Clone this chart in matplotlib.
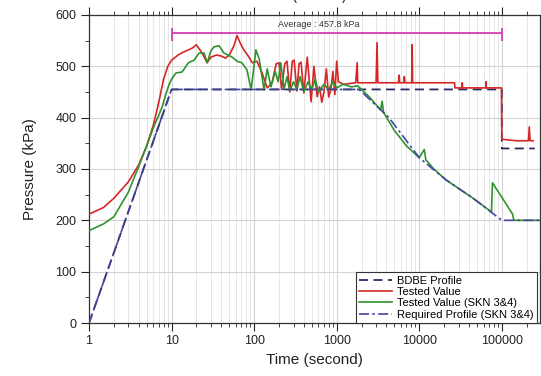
import matplotlib
matplotlib.use("Agg")
import matplotlib.pyplot as plt
from matplotlib.ticker import LogLocator, NullFormatter, MultipleLocator

plt.rcParams['font.family'] = ['Liberation Sans', 'DejaVu Sans']

# ---------------- data ----------------
bdbe_t = [1, 10, 100000, 100000, 250000]
bdbe_p = [0, 455, 455, 340, 340]

req_t = [1, 10, 1870, 4300, 10000, 21000, 44000, 77000, 100000, 290000]
req_p = [0, 455, 455, 400, 322, 279, 244, 214, 200, 200]

red_t = [1, 1.5, 2, 3, 4, 5, 6, 7, 8, 9, 10, 12, 14, 16, 18, 20, 23, 27, 30, 35,
         40, 45, 50, 57, 62, 68, 75, 85, 95, 108, 125, 144, 165, 185, 200, 215,
         235, 250, 270, 290, 305, 330, 350, 370, 400, 440, 490, 530, 580, 620,
         660, 700, 750, 800, 850, 900, 950, 1000, 1050, 1200, 1500, 1700, 1770,
         1800, 2500, 3000, 3080, 3150, 5600, 5700, 5800, 6500, 6600, 6700, 8100,
         8200, 8300, 26800, 27000, 33000, 33200, 33400, 64000, 64500, 65000,
         99000, 100000, 150000, 210000, 215000, 220000, 240000]
red_p = [212, 225, 243, 275, 308, 345, 385, 430, 475, 500, 512, 522, 528, 532,
         536, 542, 528, 507, 518, 522, 520, 516, 522, 540, 560, 545, 532, 520,
         507, 510, 487, 458, 468, 505, 507, 455, 505, 510, 450, 510, 512, 452,
         505, 508, 448, 518, 431, 500, 441, 460, 430, 450, 495, 440, 455, 490,
         445, 510, 470, 465, 467, 468, 507, 468, 468, 468, 546, 468, 468, 483,
         468, 468, 480, 468, 468, 542, 468, 468, 458, 458, 468, 458, 458, 470,
         458, 458, 358, 355, 355, 382, 355, 355]

green_t = [1, 1.5, 2, 3, 4, 5, 6, 7, 7.7, 8.5, 9.3, 10, 11.3, 13.4, 16, 18.7,
           21.6, 24.8, 27, 30, 32.6, 37.6, 43, 54, 62, 71, 82, 92, 105, 115,
           132, 144, 160, 180, 195, 210, 230, 250, 270, 300, 330, 360, 400, 450,
           500, 550, 600, 700, 800, 900, 1000, 1200, 1500, 1800, 2000, 2500,
           3000, 3400, 3550, 3700, 5000, 7000, 10000, 11500, 12000, 15000,
           21000, 30000, 44000, 60000, 75000, 77000, 100000, 135000, 140000,
           290000]
green_p = [180, 193, 207, 255, 305, 345, 380, 405, 421, 445, 464, 475, 487, 489,
           507, 512, 526, 526, 507, 530, 538, 540, 526, 518, 510, 507, 493, 454,
           532, 515, 454, 495, 460, 490, 470, 507, 455, 480, 452, 470, 455, 480,
           450, 470, 455, 475, 450, 465, 455, 470, 458, 465, 460, 462, 455, 440,
           425, 415, 432, 410, 375, 345, 322, 338, 318, 300, 279, 262, 244, 228,
           216, 273, 245, 212, 200, 200]

avg_value = 457.8
avg_level = 565
avg_span = [10, 100000]

x_ticks = [1, 10, 100, 1000, 10000, 100000]
x_labels = ['1', '10', '100', '1000', '10000', '100000']

# ---------------- figure ----------------
fig = plt.figure(figsize=(5.41, 3.76), dpi=100)
ax = fig.add_axes([89/541, 53/376, (540-89)/541, (323-15)/376])

ax.set_xscale('log')
ax.set_xlim(1, 2.9e5)
ax.set_ylim(0, 600)

ax.grid(True, which='major', color='#d4d4d4', lw=0.8)
ax.grid(True, which='minor', axis='x', color='#e3e3e3', lw=0.6)
ax.set_axisbelow(True)

ax.plot(bdbe_t, bdbe_p, color='#2b2b63', lw=1.3, ls=(0, (5, 3)), label='BDBE Profile', zorder=3)
ax.plot(red_t, red_p, color='#d62626', lw=1.2, label='Tested Value', zorder=4)
ax.plot(green_t, green_p, color='#2f932f', lw=1.2, label='Tested Value (SKN 3&4)', zorder=5)
ax.plot(req_t, req_p, color='#45459e', lw=1.2, ls=(0, (6, 2, 1.5, 2)),
        label='Required Profile (SKN 3&4)', zorder=6)

# average bar
ax.hlines(avg_level, avg_span[0], avg_span[1], color='#d63fb0', lw=1.3, zorder=6)
ax.vlines(avg_span, avg_level - 15, avg_level + 10, color='#d63fb0', lw=1.3, zorder=6)
ax.text(600, avg_level + 7, f'Average : {avg_value} kPa', ha='center', va='bottom',
        fontsize=6.5, color='#333333', zorder=7)

ax.set_xticks(x_ticks)
ax.set_xticklabels(x_labels)
ax.xaxis.set_minor_locator(LogLocator(base=10, subs=range(2, 10)))
ax.xaxis.set_minor_formatter(NullFormatter())
ax.yaxis.set_major_locator(MultipleLocator(100))
ax.yaxis.set_minor_locator(MultipleLocator(50))

ax.tick_params(which='both', direction='out', top=True, right=True, labelsize=9, colors='#222222')
ax.tick_params(which='major', length=6, width=0.8, pad=3)
ax.tick_params(which='minor', length=3, width=0.6)
for s in ax.spines.values():
    s.set_color('#333333')
    s.set_linewidth(0.9)

ax.set_xlabel('Time (second)', fontsize=11, labelpad=4, color='#222222')
ax.set_ylabel('Pressure (kPa)', fontsize=11, labelpad=13, color='#222222')

fig.text(0.558, 0.992, 'Time (second)', ha='center', va='bottom', fontsize=10, color='#222222')

leg = ax.legend(loc='lower right', bbox_to_anchor=(0.993, 0.0), borderaxespad=0,
                fontsize=8, handlelength=3.0, fancybox=False, framealpha=1,
                edgecolor='#333333', borderpad=0.3, labelspacing=0.12, handletextpad=0.4)
leg.get_frame().set_linewidth(0.8)

fig.savefig('out.png', dpi=100)
